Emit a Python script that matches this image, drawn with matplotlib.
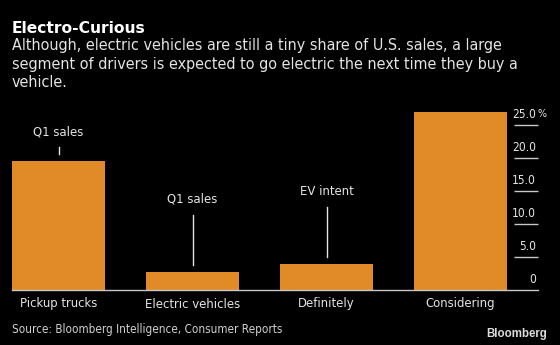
import matplotlib
matplotlib.use("Agg")
import matplotlib.pyplot as plt
from matplotlib import transforms as mtrans

# ---- data ----
categories = ["Pickup trucks", "Electric vehicles", "Definitely", "Considering"]
values = [19.6, 2.8, 3.9, 26.9]
annotations = ["Q1 sales", "Q1 sales", "EV intent", None]
yticks = [0, 5, 10, 15, 20, 25]
ytick_labels = ["0", "5.0", "10.0", "15.0", "20.0", "25.0"]

title = "Electro-Curious"
subtitle_lines = [
    "Although, electric vehicles are still a tiny share of U.S. sales, a large",
    "segment of drivers is expected to go electric the next time they buy a",
    "vehicle.",
]
source = "Source: Bloomberg Intelligence, Consumer Reports"

# ---- style ----
W, H, DPI = 560, 345, 100
BG = "#000000"
BAR = "#e08b28"
TXT = "#e4e4e4"
GRID = "#c8c8c8"
plt.rcParams["font.family"] = ["DejaVu Sans"]
COND = dict(family=["DejaVu Sans"], fontstretch="condensed")

fig = plt.figure(figsize=(W / DPI, H / DPI), dpi=DPI, facecolor=BG)

def px(x, y):
    return x / W, 1 - y / H

# axes in pixel geometry
left, right, top, bottom = 12, 538, 100, 290
ax = fig.add_axes([left / W, (H - bottom) / H, (right - left) / W, (bottom - top) / H])
ax.set_facecolor(BG)
px_per_unit = 6.6
ax.set_ylim(0, (bottom - top) / px_per_unit)
pitch = 134.0
c0 = 58.5
ax.set_xlim(-(c0 - left) / pitch, (right - c0) / pitch)

xs = list(range(len(categories)))
ax.bar(xs, values, width=93 / pitch, color=BAR, zorder=2)

for s in ["top", "left", "right"]:
    ax.spines[s].set_visible(False)
ax.spines["bottom"].set_color(GRID)
ax.spines["bottom"].set_linewidth(1.0)

ax.set_xticks([])
cat_tr = mtrans.offset_copy(ax.get_xaxis_transform(), fig=fig, x=0, y=-17.5, units="dots")
for x, c in zip(xs, categories):
    ax.text(x, 0, c, transform=cat_tr, ha="center", va="baseline", color=TXT,
            fontsize=9.4, clip_on=False, **COND)

ax.yaxis.tick_right()
ax.set_yticks(yticks[1:])
ax.set_yticklabels([])
ax.tick_params(axis="y", direction="in", length=17.3, width=1.0, color=GRID,
               right=True, left=False)

# y tick labels above tick dashes
lab_tr = mtrans.offset_copy(ax.get_yaxis_transform(), fig=fig, x=-2, y=7, units="dots")
for v, lab in zip(yticks, ytick_labels):
    ax.text(1.0, v, lab, transform=lab_tr, ha="right", va="baseline",
            color=TXT, fontsize=8.6, clip_on=False, **COND)
pct_tr = mtrans.offset_copy(ax.get_yaxis_transform(), fig=fig, x=-1, y=8, units="dots")
ax.text(1.0, yticks[-1], "%", transform=pct_tr, ha="left", va="baseline", color=TXT,
        fontsize=7.6, clip_on=False, **COND)

# annotation leader lines and labels
line_len = [6.5, 50, 50, 0]
gap = 7
for x, v, a, L in zip(xs, values, annotations, line_len):
    if a is None:
        continue
    base = ax.transData
    p0 = mtrans.offset_copy(base, fig=fig, x=0, y=gap, units="dots").transform((x, v))
    p1 = mtrans.offset_copy(base, fig=fig, x=0, y=gap + L, units="dots").transform((x, v))
    fig.add_artist(plt.Line2D([p0[0] / W, p1[0] / W], [p0[1] / H, p1[1] / H],
                              transform=fig.transFigure, color=TXT, lw=1.0))
    trl = mtrans.offset_copy(base, fig=fig, x=0, y=gap + L + 12, units="dots")
    ax.text(x, v, a, transform=trl, ha="center", va="baseline", color=TXT,
            fontsize=9.4, clip_on=False, **COND)

# titles
fig.text(*px(12, 32.7), title, color="white", fontsize=11.2, fontweight="bold",
         ha="left", va="baseline")
for yb, line in zip([50, 68.5, 87], subtitle_lines):
    fig.text(*px(12, yb), line, color=TXT, fontsize=11.5, ha="left", va="baseline", **COND)
fig.text(*px(12, 333.3), source, color="#d0d0d0", fontsize=8.4, ha="left",
         va="baseline", **COND)
fig.text(*px(547, 337.3), "Bloomberg", color="#dcdcdc", fontsize=8.3, fontweight="bold",
         ha="right", va="baseline", family=["Liberation Sans", "DejaVu Sans"])

fig.savefig("out.png", dpi=DPI, facecolor=BG)
